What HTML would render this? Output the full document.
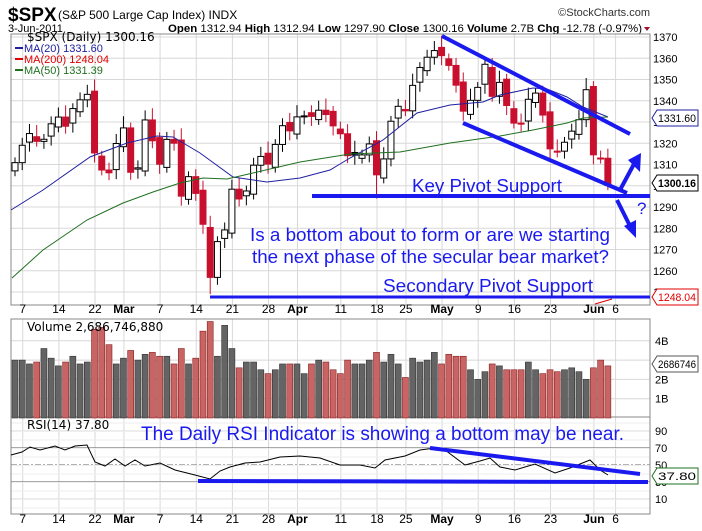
<!DOCTYPE html>
<html><head><meta charset="utf-8"><style>
html,body{margin:0;padding:0;background:#fff;}
svg{display:block;font-family:"Liberation Sans",sans-serif;}
</style></head><body>
<svg id="s" width="702" height="531" xmlns="http://www.w3.org/2000/svg">
<rect width="702" height="531" fill="#fff"/>
<text x="8" y="21" font-size="19" font-weight="bold" fill="#000">$SPX</text>
<text x="58" y="19" font-size="12" fill="#000">(S&amp;P 500 Large Cap Index) INDX</text>
<text x="650" y="16" font-size="11" fill="#333" text-anchor="end">©StockCharts.com</text>
<text x="8" y="32" font-size="11">3-Jun-2011</text>
<text x="168" y="32" font-size="11" textLength="474" lengthAdjust="spacingAndGlyphs"><tspan font-weight="bold">Open</tspan> 1312.94 <tspan font-weight="bold">High</tspan> 1312.94 <tspan font-weight="bold">Low</tspan> 1297.90 <tspan font-weight="bold">Close</tspan> 1300.16 <tspan font-weight="bold">Volume</tspan> 2.7B <tspan font-weight="bold">Chg</tspan> -12.78 (-0.97%)</text>
<polygon points="644,27 650,27 647,31" fill="#a0102a"/>
<g id="grid"></g>
<rect x="11" y="34" width="639" height="271" fill="none" stroke="#888"/>
<rect x="11" y="319" width="639" height="98" fill="none" stroke="#888"/>
<rect x="11" y="417" width="639" height="97" fill="none" stroke="#888"/>
<g id="g"></g>
</svg>
<script>
var NS="http://www.w3.org/2000/svg",g=document.getElementById('g'),gr=document.getElementById('grid');
function el(t,a,p,txt){var e=document.createElementNS(NS,t);for(var k in a)e.setAttribute(k,a[k]);if(txt!=null)e.textContent=txt;(p||g).appendChild(e);return e;}
var C=[1310.87,1319.05,1324.57,1320.88,1321.87,1329.15,1332.32,1328.01,1336.32,1340.43,1343.01,1315.44,1307.40,1306.10,1319.88,1327.22,1306.33,1308.44,1330.97,1321.15,1310.13,1321.82,1320.02,1295.11,1304.28,1296.39,1281.87,1256.88,1273.72,1279.21,1298.38,1293.77,1297.54,1309.66,1313.80,1310.19,1319.44,1328.26,1325.83,1332.41,1332.87,1332.63,1335.54,1333.51,1328.17,1324.46,1314.16,1314.41,1314.52,1319.68,1305.14,1312.62,1330.36,1337.38,1335.25,1347.24,1355.66,1360.48,1363.61,1361.22,1356.62,1347.32,1335.10,1340.20,1346.29,1357.16,1342.08,1348.65,1337.77,1329.47,1328.98,1340.68,1343.60,1333.27,1317.37,1316.28,1320.47,1325.69,1331.10,1345.20,1314.55,1312.94,1300.16];
var V=[3.0,3.0,2.8,2.9,3.6,3.1,2.7,2.9,3.2,2.8,2.9,4.6,4.7,3.8,2.8,3.1,3.5,3.0,3.3,3.4,3.2,3.2,2.8,3.6,2.8,3.1,4.5,5.0,3.2,4.8,3.6,2.6,2.9,2.9,2.5,2.3,2.5,2.8,2.8,2.8,2.3,2.8,3.0,2.9,2.5,2.3,3.0,2.8,2.8,3.0,3.4,2.9,3.3,2.8,2.1,3.1,2.9,3.0,3.4,2.8,3.3,3.2,3.2,2.5,2.0,2.4,2.8,2.7,2.5,2.5,2.5,2.9,2.5,2.3,2.5,2.4,2.5,2.6,2.4,2.0,2.6,3.0,2.7];
function X(i){return 15+i*7.23;}function Y(p){return 37+(1370-p)*2.125;}
var wk=[[1,"7"],[6,"14"],[11,"22"],[15,"Mar"],[20,"7"],[25,"14"],[30,"21"],[35,"28"],[39,"Apr"],[45,"11"],[50,"18"],[54,"25"],[59,"May"],[64,"9"],[69,"16"],[74,"23"],[80,"Jun"],[83,"6"]];
wk.forEach(function(w){var x=X(w[0])+0.5;[[34,305],[319,417],[417,514]].forEach(function(r){el('line',{x1:x,x2:x,y1:r[0],y2:r[1],stroke:'#d8d8d8'},gr);});
var b=/[A-Z]/.test(w[1]);[313,523].forEach(function(y){el('text',{x:x,y:y,'font-size':12,'text-anchor':'middle','font-weight':b?'bold':'normal'},g,w[1]);});});
for(var p=1250;p<=1370;p+=10){var y=Y(p);el('line',{x1:11,x2:650,y1:y,y2:y,stroke:'#d8d8d8'},gr);el('text',{x:653,y:y+4,'font-size':11},g,p);}
[1,2,3,4].forEach(function(b){var y=418-b*19.3;el('line',{x1:11,x2:650,y1:y,y2:y,stroke:'#d8d8d8'},gr);el('text',{x:655,y:y+4,'font-size':11},g,b+"B");});
[10,30,50,70,90].forEach(function(r){var y=465-(r-50)*0.85;el('line',{x1:11,x2:650,y1:y,y2:y,stroke:(r==30||r==70)?'#555':(r==50?'#666':'#d8d8d8'),'stroke-dasharray':r==50?'6,2,2,2':''},gr);el('text',{x:655,y:y+4,'font-size':11},g,r);});
for(var y=423;y<514;y+=8.5){el('line',{x1:11,x2:650,y1:y,y2:y,stroke:'#eee'},gr);}
for(var i=0;i<C.length;i++){var c=C[i],o=i?C[i-1]+(i%3-1)*1.5:1307;if(i==82)o=1312.94;var h=Math.max(o,c)+2.5+(i%4),l=Math.min(o,c)-2.5-(i%3);if(i==27)l=1249;if(i==50)l=1294;if(i==82)l=1297.9;
var red=i&&c<C[i-1],col=red?'#c8102e':'#000',x=X(i);
el('line',{x1:x,x2:x,y1:Y(h),y2:Y(l),stroke:col});
var t=Y(Math.max(o,c)),bh=Math.max(1,Math.abs(Y(o)-Y(c)));
el('rect',{x:x-3,y:t,width:6,height:bh,fill:c<o?col:'#fff',stroke:col,'stroke-width':1});
var vh=V[i]*19.3;el('rect',{x:x-3,y:418-vh,width:6,height:vh,fill:red?'#c86464':'#646464',stroke:red?'#8a2020':'#333','stroke-width':0.6});}
function pl(pts,a){el('polyline',Object.assign({points:pts.map(function(p){return p.join(',')}).join(' '),fill:'none'},a));}
pl([[11,210],[43,190],[90,157],[127,143],[157,136],[173,137],[200,153],[233,177],[267,182],[300,178],[330,170],[350,158],[383,140],[417,113],[450,105],[483,102],[500,95],[533,88],[547,89],[567,97],[583,107],[608,117]],{stroke:'#2020a0','stroke-width':1});
pl([[12,278],[43,250],[87,220],[123,203],[153,192],[180,183],[203,178],[227,179],[253,173],[300,162],[350,154],[400,152],[450,143],[500,136],[533,130],[567,123],[583,118],[608,117]],{stroke:'#207020','stroke-width':1});
pl([[11,455],[22,452],[30,447],[40,450],[55,446],[65,450],[75,446],[87,445],[95,462],[105,466],[115,459],[125,466],[135,460],[145,466],[160,463],[175,470],[195,475],[210,479],[220,471],[230,467],[245,463],[260,462],[280,457],[300,456],[320,458],[340,465],[360,465],[375,468],[385,460],[405,456],[420,450],[435,448],[445,450],[465,465],[480,461],[490,458],[500,467],[515,470],[535,464],[555,473],[570,468],[590,460],[600,470],[608,475]],{stroke:'#000','stroke-width':1});
var B='#1a1aee';
function ln(a,b,c,d,w){el('line',{x1:a,y1:b,x2:c,y2:d,stroke:B,'stroke-width':w||4});}
ln(442,36,630,134);ln(463,123,627,193);ln(312,196,650,196);ln(210,297,650,297,3);
ln(430,448,640,474);ln(198,481,648,482);
ln(620,190,634,164);el('polygon',{points:'628,160 641,153 640,172',fill:B});
ln(617,200,630,226);el('polygon',{points:'624,226 636,238 636,220',fill:B});
el('text',{x:637,y:214,'font-size':17,fill:B},g,'?');
el('text',{x:412,y:192,'font-size':18,fill:B,textLength:150,lengthAdjust:'spacingAndGlyphs'},g,'Key Pivot Support');
el('text',{x:250,y:241,'font-size':18,fill:B,textLength:360,lengthAdjust:'spacingAndGlyphs'},g,'Is a bottom about to form or are we starting');
el('text',{x:252,y:263,'font-size':18,fill:B,textLength:357,lengthAdjust:'spacingAndGlyphs'},g,'the next phase of the secular bear market?');
el('text',{x:383,y:292,'font-size':18,fill:B,textLength:210,lengthAdjust:'spacingAndGlyphs'},g,'Secondary Pivot Support');
el('text',{x:141,y:440,'font-size':19,fill:B,textLength:483,lengthAdjust:'spacingAndGlyphs'},g,'The Daily RSI Indicator is showing a bottom may be near.');
el('text',{x:27,y:41,'font-size':12,fill:'#000','font-family':'DejaVu Sans'},g,'$SPX (Daily) 1300.16');
el('text',{x:24,y:52,'font-size':11,fill:'#2020a0'},g,'MA(20) 1331.60');
el('text',{x:24,y:63,'font-size':11,fill:'#e00000'},g,'MA(200) 1248.04');
el('text',{x:24,y:74,'font-size':11,fill:'#207020'},g,'MA(50) 1331.39');
el('line',{x1:15,x2:23,y1:48,y2:48,stroke:'#2020a0','stroke-width':2});el('line',{x1:15,x2:23,y1:59,y2:59,stroke:'#e00000','stroke-width':2});el('line',{x1:15,x2:23,y1:70,y2:70,stroke:'#207020','stroke-width':2});
el('text',{x:27,y:331,'font-size':12,'font-family':'DejaVu Sans'},g,'Volume 2,686,746,880');
el('text',{x:27,y:429,'font-size':12,'font-family':'DejaVu Sans'},g,'RSI(14) 37.80');
el('line',{x1:595,x2:612,y1:304,y2:299,stroke:'#e00000'});
function tag(y,t,col,bold){el('polygon',{points:(652)+','+y+' '+(657)+','+(y-8)+' 698,'+(y-8)+' 698,'+(y+8)+' 657,'+(y+8),fill:'#fff',stroke:col});el('text',{x:658,y:y+4,'font-size':11,fill:col==='#e00000'?'#e00000':'#000','font-weight':bold?'bold':'normal',textLength:38,lengthAdjust:'spacingAndGlyphs'},g,t);}
tag(118,'1331.60','#2020a0');tag(183,'1300.16','#000',1);tag(297,'1248.04','#e00000');tag(364,'2686746','#555');tag(476,'37.80','#207020');
</script>
</body></html>
